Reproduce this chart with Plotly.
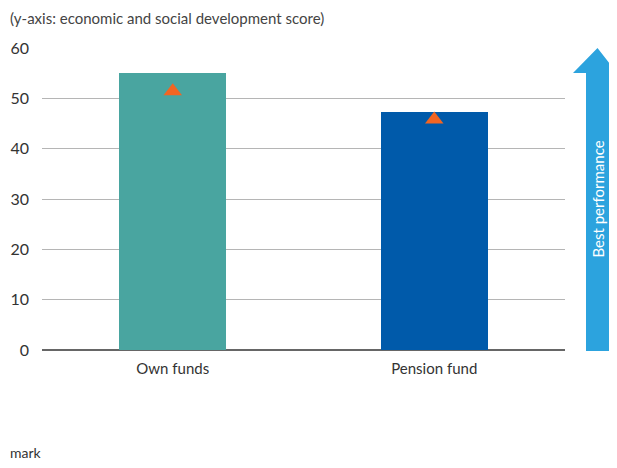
import plotly.graph_objects as go

categories = ["Own funds", "Pension fund"]
scores = [55.1, 47.3]
benchmark = [51.4, 45.8]
bar_colors = ["#49A5A0", "#005AAA"]
y_ticks = [0, 10, 20, 30, 40, 50, 60]

FONT = "Lato"
OFF = 8  # page body margin
W, H = 617 - OFF, 468 - OFF
L, R = 42 - OFF, 565 - OFF
T, B = 48 - OFF, 350 - OFF

fig = go.Figure()
fig.add_trace(go.Bar(x=categories, y=scores, marker=dict(color=bar_colors, line=dict(width=0)),
                     width=0.41, showlegend=False))
fig.add_trace(go.Scatter(x=categories, y=benchmark, mode="markers",
                         marker=dict(symbol="triangle-up", size=16, color="#F26522"),
                         showlegend=False))

def px(x):
    return (x - OFF - L) / (R - L)
def py(y):
    return (B - (y - OFF)) / (B - T)

path = (f"M {px(586)} {py(351)} L {px(610)} {py(351)} L {px(610)} {py(73)} L {px(617)} {py(73)} "
        f"L {px(597.5)} {py(48)} L {px(573)} {py(73)} L {px(586)} {py(73)} Z")
fig.add_shape(type="path", xref="paper", yref="paper", path=path,
              fillcolor="#2CA3DE", line=dict(width=0), layer="below")
fig.add_annotation(x=px(597.5), y=py(199), xref="paper", yref="paper", text="Best performance",
                   xanchor="center", yanchor="middle",
                   textangle=-90, showarrow=False, font=dict(color="white", size=15, family=FONT))

fig.add_annotation(x=px(8), y=py(18), xref="paper", yref="paper",
                   xanchor="left", yanchor="middle",
                   text="(y-axis: economic and social development score)", showarrow=False,
                   font=dict(size=15, color="#444", family=FONT))
fig.add_annotation(x=px(8), y=py(452), xref="paper", yref="paper",
                   xanchor="left", yanchor="middle", text="mark", showarrow=False,
                   font=dict(size=14, color="#333", family=FONT))

fig.update_layout(
    width=W, height=H, margin=dict(l=L, r=W - R, t=T, b=H - B, autoexpand=False),
    plot_bgcolor="white", paper_bgcolor="white",
    font=dict(family=FONT, size=14, color="#333"),
    bargap=0,
    xaxis=dict(range=[-0.5, 1.5], showgrid=False, showline=False, ticks="", automargin=False,
               ticklabelstandoff=8, tickfont=dict(size=15)),
    yaxis=dict(range=[0, 60], tickvals=y_ticks, showgrid=True, gridcolor="#B5B5B5", gridwidth=1,
               zeroline=True, zerolinecolor="#666", zerolinewidth=1.5, showline=False,
               automargin=False, ticks="", ticklabelstandoff=12, tickfont=dict(size=16)),
)
fig.write_html("out.html")
